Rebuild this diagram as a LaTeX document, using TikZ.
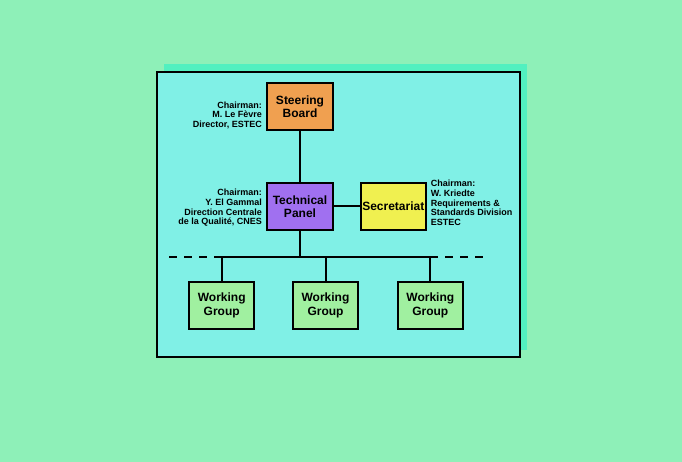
\documentclass[tikz,border=0pt]{standalone}
\usepackage{fontspec}
\setmainfont{Liberation Sans}
\usetikzlibrary{positioning}
\definecolor{bggreen}{HTML}{8EF0B8}
\definecolor{shadegreen}{HTML}{52F0C0}
\definecolor{panelcyan}{HTML}{80F0E6}
\definecolor{boardorange}{HTML}{F0A050}
\definecolor{panelpurple}{HTML}{A070F0}
\definecolor{secyellow}{HTML}{F0F050}
\definecolor{wggreen}{HTML}{A0F0A0}

\begin{document}
\begin{tikzpicture}[x=1pt, y=1pt,
	box/.style={draw, line width=1.8pt, minimum width=66pt, minimum height=47pt, inner sep=0pt, align=center, font=\bfseries\fontsize{12}{13.5}\selectfont},
	lbl/.style={inner sep=0pt, font=\bfseries\fontsize{9}{9.7}\selectfont},
	thin link/.style={line width=1.2pt},
	thick link/.style={line width=2pt}]
	\fill[bggreen] (0,0) rectangle (682,462);
	\useasboundingbox (0,0) rectangle (682,462);
	\fill[shadegreen] (164,112) rectangle (527,398);
	\filldraw[fill=panelcyan, draw=black, line width=2pt] (157,105) rectangle (520,390);

	\node[box, fill=panelpurple] (tp) at (300,255.5) {Technical\\Panel};
	\node[box, fill=boardorange, above=51pt of tp] (sb) {Steering\\Board};
	\node[box, fill=secyellow, right=26pt of tp, minimum width=65pt] (sec) {Secretariat};
	\node[box, fill=wggreen, minimum width=65pt] (wg2) at (325.5,156.5) {Working\\Group};
	\node[box, fill=wggreen, minimum width=65pt, left=37pt of wg2] (wg1) {Working\\Group};
	\node[box, fill=wggreen, minimum width=65pt, right=38pt of wg2] (wg3) {Working\\Group};

	\node[lbl, align=right, anchor=south east] (sblbl) at ([xshift=-4pt, yshift=2pt]sb.south west) {Chairman:\\M. Le Fèvre\\Director, ESTEC};
	\node[lbl, align=right, anchor=south east] (tplbl) at ([xshift=-4pt, yshift=4pt]tp.south west) {Chairman:\\Y. El Gammal\\Direction Centrale\\de la Qualité, CNES};
	\node[lbl, align=left, anchor=north west] (seclbl) at ([xshift=4pt, yshift=2pt]sec.north east) {Chairman:\\W. Kriedte\\Requirements \&\\Standards Division\\ESTEC};

	\coordinate (bus) at (300,205);
	\coordinate (busl) at (169,205);
	\coordinate (busr) at (483,205);

	\draw[thin link] (sb) -- (tp);
	\draw[thick link] (tp) -- (sec);
	\draw[thin link] (tp) -- (tp |- bus);
	\draw[thin link] (wg1 |- bus) -- (wg3 |- bus);
	\draw[thick link, dash pattern=on 8pt off 7pt] (wg1 |- bus) -- (busl);
	\draw[thick link, dash pattern=on 8pt off 7pt] (wg3 |- bus) -- (busr);
	\foreach \w in {wg1, wg2, wg3}
		\draw[thick link] (\w) -- (\w |- bus);
\end{tikzpicture}
\end{document}
